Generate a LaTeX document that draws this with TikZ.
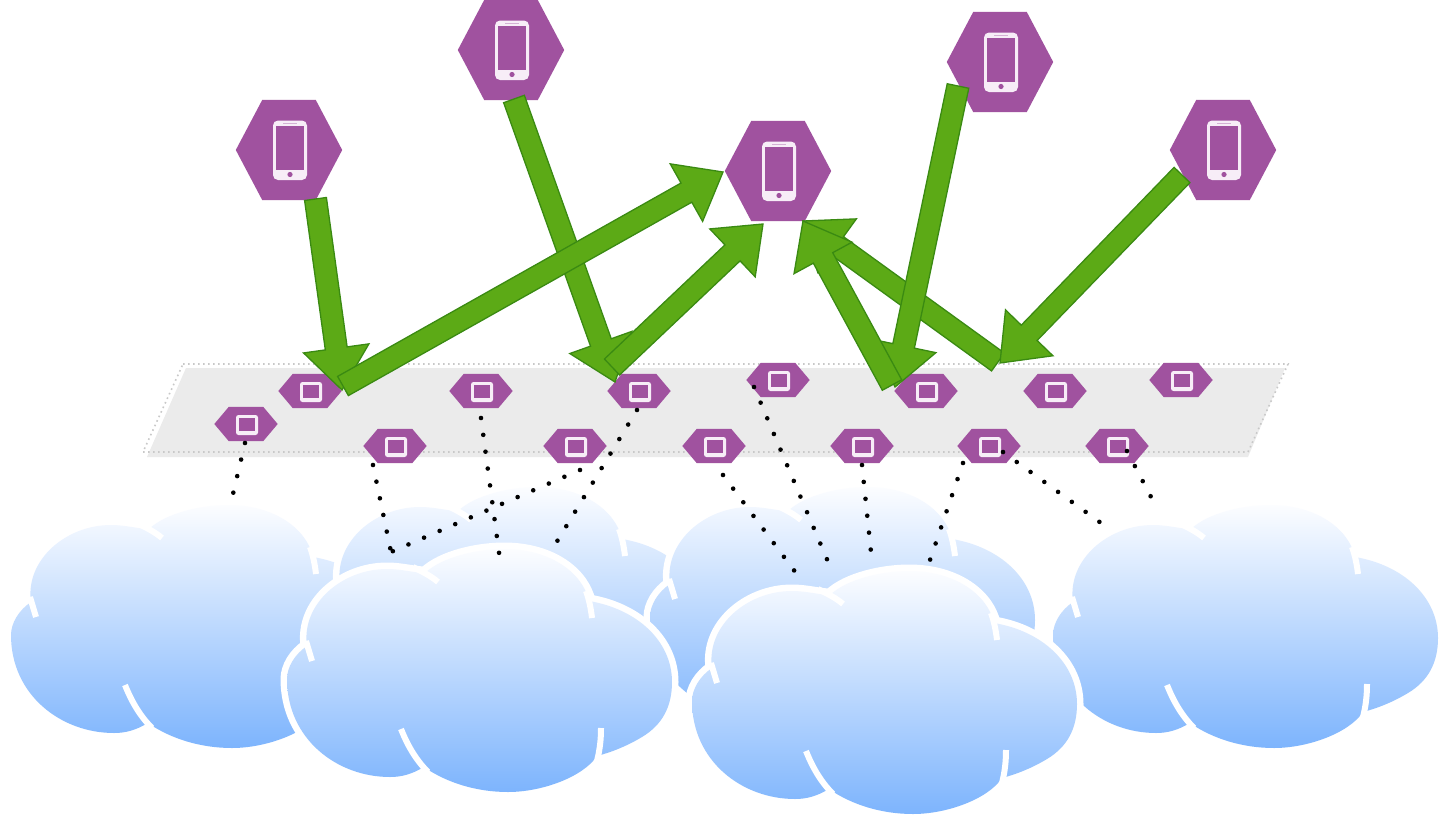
\documentclass[tikz,border=0pt]{standalone}
\usetikzlibrary{calc}
\definecolor{hexpurple}{HTML}{A0529F}
\definecolor{iconwhite}{HTML}{F7EDF7}
\definecolor{arrowfill}{HTML}{5CAA16}
\definecolor{arrowedge}{HTML}{3A8A12}
\definecolor{cloudtop}{HTML}{FCFDFF}
\definecolor{cloudbot}{HTML}{7DB4FD}
\definecolor{bandfill}{HTML}{EBEBEB}
\definecolor{banddot}{HTML}{C8C8C8}
\tikzset{
  bigbox/.style={rectangle,minimum width=106pt,minimum height=100pt,inner sep=0pt},
  smallbox/.style={rectangle,minimum width=63pt,minimum height=34pt,inner sep=0pt},
  hexfill/.style={fill=hexpurple},
  greenarrow/.style={fill=arrowfill,draw=arrowedge,line width=1.3pt,line join=miter},
  dotline/.style={draw=black,line width=4.6pt,line cap=round,dash pattern=on 0pt off 17pt},
  cloudedge/.style={draw=white,line width=13pt,line join=round},
  cloudnotch/.style={draw=white,line width=6pt},
  cloudfill/.style={top color=cloudtop,bottom color=cloudbot},
  bandline/.style={draw=banddot,line width=1.6pt,dash pattern=on 1.6pt off 3.4pt}
}
\newcommand\bighex[3]{%
  \node[bigbox] (#1) at (#2,#3) {};
  \fill[hexfill] (#1.west) -- ($(#1.north west)+(26.5,0)$) -- ($(#1.north east)+(-26.5,0)$) -- (#1.east)
    -- ($(#1.south east)+(-26.5,0)$) -- ($(#1.south west)+(26.5,0)$) -- cycle;
  \fill[iconwhite,rounded corners=5pt] ($(#1)+(-16,-29.5)$) rectangle ($(#1)+(18,30)$);
  \fill[hexfill] ($(#1)+(-13,-24)$) rectangle ($(#1)+(15,20)$);
  \fill[hexfill] ($(#1)+(1,24.5)$) circle (2.6pt);
  \fill[hexpurple!45!white] ($(#1)+(-6,-27.2)$) rectangle ($(#1)+(8,-25.6)$);}
\newcommand\smallhex[3]{%
  \node[smallbox] (#1) at (#2,#3) {};
  \fill[hexfill] (#1.west) -- ($(#1.north west)+(14.5,0)$) -- ($(#1.north east)+(-14.5,0)$) -- (#1.east)
    -- ($(#1.south east)+(-14.5,0)$) -- ($(#1.south west)+(14.5,0)$) -- cycle;
  \fill[iconwhite,rounded corners=2.5pt] ($(#1)+(-10,-9)$) rectangle ($(#1)+(12,11)$);
  \fill[hexfill] ($(#1)+(-7,-6)$) rectangle ($(#1)+(9,7)$);}
\newcommand\cloudoutline{(20,97) .. controls (14,55) and (55,20) .. (100,20)
  .. controls (115,20) and (128,24) .. (138,24)
  .. controls (155,8) and (190,0) .. (217,0)
  .. controls (265,0) and (296,25) .. (302,52)
  .. controls (350,60) and (385,92) .. (385,133)
  .. controls (385,158) and (375,176) .. (355,188)
  .. controls (340,197) and (325,203) .. (310,207)
  .. controls (296,228) and (255,243) .. (221,243)
  .. controls (190,243) and (160,234) .. (137,218)
  .. controls (125,225) and (115,228) .. (103,228)
  .. controls (50,228) and (0,190) .. (0,130)
  .. controls (0,118) and (8,105) .. (20,97) -- cycle}
\newcommand\drawcloud[2]{%
  \begin{scope}[shift={(#1,#2)}]
    \path[cloudedge] \cloudoutline;
    \shade[cloudfill] \cloudoutline;
    \draw[cloudnotch] (19,92) -- (25,112);
    \draw[cloudnotch] (126,18) .. controls (136,23) and (144,27) .. (151,33);
    \draw[cloudnotch] (299,42) .. controls (302,50) and (304,60) .. (305,69);
    \draw[cloudnotch] (310,212) .. controls (313,200) and (314,190) .. (314,179);
    \draw[cloudnotch] (141,223) .. controls (128,210) and (120,195) .. (114,180);
  \end{scope}}
\newcommand\blockarrow[2]{%
  \coordinate (hb) at ($(#2)!42pt!(#1)$);
  \draw[greenarrow] ($(#1)!11pt!90:(#2)$) -- ($(hb)!11pt!90:(#2)$) -- ($(hb)!33pt!90:(#2)$)
    -- (#2) -- ($(hb)!33pt!-90:(#2)$) -- ($(hb)!11pt!-90:(#2)$) -- ($(#1)!11pt!-90:(#2)$) -- cycle;}
\begin{document}
\begin{tikzpicture}[x=1pt,y=-1pt]
\useasboundingbox (0,0) rectangle (1451,827);
\fill[white] (0,0) rectangle (1451,827);
% clouds
\drawcloud{11}{505}
\drawcloud{320}{487}
\drawcloud{650}{487}
\drawcloud{1053}{505}
\drawcloud{287}{549}
\drawcloud{692}{571}
% band
\fill[bandfill] (186,368) -- (1285,368) -- (1248,457) -- (147,457) -- cycle;
\draw[bandline] (183,364) -- (1288,364) -- (1248,452) -- (143,452) -- cycle;
% small hexes
\smallhex{s1}{246}{424}
\smallhex{s2}{310}{391}
\smallhex{s3}{395}{446}
\smallhex{s4}{481}{391}
\smallhex{s5}{575}{446}
\smallhex{s6}{639}{391}
\smallhex{s7}{714}{446}
\smallhex{s8}{778}{380}
\smallhex{s9}{862}{446}
\smallhex{s10}{926}{391}
\smallhex{s11}{989}{446}
\smallhex{s12}{1055}{391}
\smallhex{s13}{1117}{446}
\smallhex{s14}{1181}{380}
% big hexes
\bighex{p1}{289}{150}
\bighex{p2}{511}{50}
\bighex{p3}{1000}{62}
\bighex{pc}{778}{171}
\bighex{p4}{1223}{150}
% dotted connectors
\coordinate (e1) at (233,494);
\coordinate (e2) at (391,552);
\coordinate (e4) at (500,560);
\coordinate (e5) at (553,548);
\coordinate (e6) at (796,573);
\coordinate (e7) at (829,564);
\coordinate (e8) at (871,552);
\coordinate (e9) at (929,563);
\coordinate (e10) at (1101,523);
\coordinate (e11) at (1151,497);
\draw[dotline] ($(s1)+(-1,19)$) -- (e1);
\draw[dotline] ($(s3)+(-22,19)$) -- (e2);
\draw[dotline] ($(s5)+(5,24)$) -- (e2);
\draw[dotline] ($(s4)+(0,27)$) -- (e4);
\draw[dotline] ($(s6)+(-2,19)$) -- (e5);
\draw[dotline] ($(s7)+(9,29)$) -- (e6);
\draw[dotline] ($(s8)+(-24,7)$) -- (e7);
\draw[dotline] ($(s9)+(0,19)$) -- (e8);
\draw[dotline] ($(s11)+(-26,17)$) -- (e9);
\draw[dotline] ($(s11)+(14,6)$) -- (e10);
\draw[dotline] ($(s13)+(10,5)$) -- (e11);
% block arrows
\coordinate (a1s) at ($(p1)+(26.5,49)$);
\coordinate (a1t) at ($(s2)+(32,-1)$);
\coordinate (a2s) at ($(s2)+(33,-5)$);
\coordinate (a2t) at ($(pc)+(-55,1)$);
\coordinate (a3s) at ($(p2)+(3,49)$);
\coordinate (a3t) at ($(s6)+(-24,-9)$);
\coordinate (a4s) at ($(s6)+(-27,-24)$);
\coordinate (a4t) at ($(pc)+(-15,53)$);
\coordinate (a5s) at ($(p3)+(-42,24)$);
\coordinate (a5t) at ($(s10)+(-31,-4)$);
\coordinate (a6s) at ($(s10)+(-34,-6)$);
\coordinate (a6t) at ($(pc)+(25,50)$);
\coordinate (a7s) at ($(s12)+(-57,-29)$);
\coordinate (a8s) at ($(p4)+(-41,25)$);
\coordinate (a8t) at ($(s12)+(-55,-28)$);
\blockarrow{a1s}{a1t}
\blockarrow{a3s}{a3t}
\blockarrow{a2s}{a2t}
\blockarrow{a4s}{a4t}
\blockarrow{a7s}{a6t}
\blockarrow{a5s}{a5t}
\blockarrow{a6s}{a6t}
\blockarrow{a8s}{a8t}
\end{tikzpicture}
\end{document}
